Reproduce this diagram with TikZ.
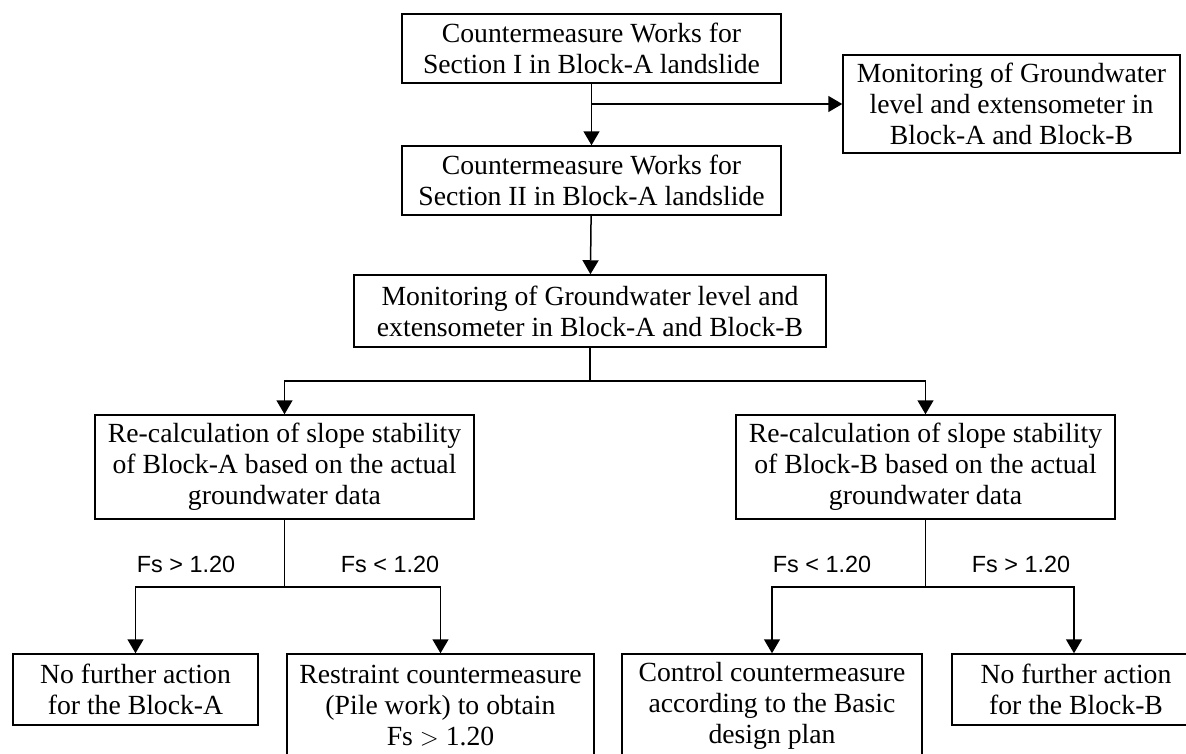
\documentclass[tikz,border=0pt]{standalone}
\usepackage{fontspec}
\setmainfont{Liberation Serif}
\newfontfamily\fslabel{Liberation Sans}
\usetikzlibrary{arrows.meta}

\begin{document}
\begin{tikzpicture}[x=1pt,y=-1pt,line width=1.5pt,
	box/.style={draw,inner sep=0pt,align=center,font=\fontsize{27.7}{31}\selectfont},
	fs/.style={anchor=base,font=\fslabel\fontsize{23.4}{28}\selectfont},
	>={Triangle[length=14pt,width=16pt]}]
\useasboundingbox (0,0) rectangle (1186,753);
\clip (0,0) rectangle (1186,753);
% boxes
\node[box,minimum width=379pt,minimum height=69pt] (0) at (591.5,48.5) {Countermeasure Works for\\Section I in Block-A landslide};
\node[box,minimum width=337pt,minimum height=98pt] (1) at (1011.5,104) {Monitoring of Groundwater\\level and extensometer in\\Block-A and Block-B};
\node[box,minimum width=379pt,minimum height=69pt] (2) at (591.5,180.5) {Countermeasure Works for\\Section II in Block-A landslide};
\node[box,minimum width=472pt,minimum height=72pt] (3) at (590,311) {Monitoring of Groundwater level and\\extensometer in Block-A and Block-B};
\node[box,minimum width=379pt,minimum height=104pt] (4) at (284.5,467) {Re-calculation of slope stability\\of Block-A based on the actual\\groundwater data};
\node[box,minimum width=379pt,minimum height=104pt] (5) at (925.5,467) {Re-calculation of slope stability\\of Block-B based on the actual\\groundwater data};
\node[box,minimum width=245pt,minimum height=71pt] (6) at (135.5,689.5) {No further action\\for the Block-A};
\node[box,minimum width=307pt,minimum height=104pt] (7) at (440.5,706) {Restraint countermeasure\\(Pile work) to obtain\\Fs $>$ 1.20};
\node[box,minimum width=300pt,minimum height=104pt] (8) at (772,706) {Control countermeasure\\according to the Basic\\design plan};
\node[box,minimum width=248pt,minimum height=71pt] (9) at (1076,689.5) {No further action\\for the Block-B};
% branch points
\coordinate (j0) at (591.5,104);
\coordinate (j3) at (590,381);
\coordinate (j4) at (284.5,587);
\coordinate (j5) at (925.5,587);
% labels
\node[fs] (a1) at (186,572) {Fs > 1.20};
\node[fs] (a2) at (390,572) {Fs < 1.20};
\node[fs] (b1) at (822,572) {Fs < 1.20};
\node[fs] (b2) at (1021,572) {Fs > 1.20};
% connectors
\draw [->](0)--(2);
\draw [->](j0)--(1);
\draw [->](2)--(3);
\draw (3)--(j3);
\draw [->](j3)-|(4);
\draw [->](j3)-|(5);
\draw (4)--(j4);
\draw [->](j4)-|(6);
\draw [->](j4)-|(7);
\draw (5)--(j5);
\draw [->](j5)-|(8);
\draw [->](j5)-|([xshift=-2pt]9.north);
\end{tikzpicture}
\end{document}
